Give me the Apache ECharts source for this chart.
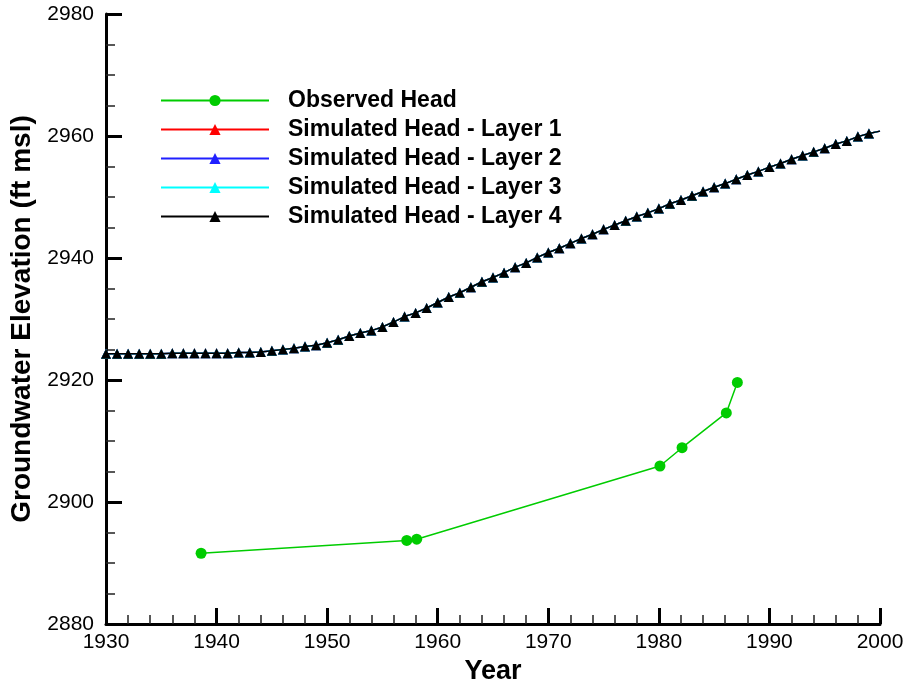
<!DOCTYPE html>
<html>
<head>
<meta charset="utf-8">
<script src="https://cdn.jsdelivr.net/npm/echarts@6/dist/echarts.min.js"></script>
<style>
html,body{margin:0;padding:0;background:#fff;}
#chart{width:909px;height:681px;}
</style>
</head>
<body>
<div id="chart"></div>
<script>
// Observed head (year, ft msl)
const observedYears = [1938.6, 1957.2, 1958.1, 1980.1, 1982.1, 1986.1, 1987.1];
const observedHead  = [2891.6, 2893.7, 2893.9, 2905.9, 2908.9, 2914.6, 2919.6];

// Simulated head, yearly 1930-2000 (all four layers plot on top of each other)
const simYears = [
  1930,1931,1932,1933,1934,1935,1936,1937,1938,1939,
  1940,1941,1942,1943,1944,1945,1946,1947,1948,1949,
  1950,1951,1952,1953,1954,1955,1956,1957,1958,1959,
  1960,1961,1962,1963,1964,1965,1966,1967,1968,1969,
  1970,1971,1972,1973,1974,1975,1976,1977,1978,1979,
  1980,1981,1982,1983,1984,1985,1986,1987,1988,1989,
  1990,1991,1992,1993,1994,1995,1996,1997,1998,1999,
  2000
];
const simLayer1 = [
  2924.3,2924.3,2924.3,2924.3,2924.3,2924.3,2924.4,2924.4,2924.4,2924.4,
  2924.4,2924.4,2924.5,2924.5,2924.6,2924.8,2925.0,2925.2,2925.5,2925.7,
  2926.1,2926.6,2927.2,2927.7,2928.1,2928.7,2929.5,2930.4,2931.0,2931.8,
  2932.7,2933.6,2934.3,2935.2,2936.1,2936.8,2937.6,2938.5,2939.2,2940.1,
  2940.9,2941.6,2942.4,2943.2,2943.9,2944.7,2945.4,2946.1,2946.8,2947.4,
  2948.1,2948.9,2949.5,2950.2,2950.9,2951.6,2952.2,2952.9,2953.6,2954.2,
  2954.9,2955.5,2956.2,2956.8,2957.4,2958.0,2958.7,2959.2,2959.9,2960.4,
  2960.8
];
const simLayer2 = simLayer1.slice();
const simLayer3 = simLayer1.slice();
const simLayer4 = simLayer1.slice();

const seriesNames = [
  'Observed Head',
  'Simulated Head - Layer 1',
  'Simulated Head - Layer 2',
  'Simulated Head - Layer 3',
  'Simulated Head - Layer 4'
];
const simColors = ['#ff0000', '#2020ff', '#00ffff', '#000000'];

function pairs(xs, ys, lastNoSymbol) {
  return xs.map((x, i) => {
    if (lastNoSymbol && i === xs.length - 1) return { value: [x, ys[i]], symbol: 'none' };
    return [x, ys[i]];
  });
}

const FONT = 'Liberation Sans, Arial, sans-serif';
const chart = echarts.init(document.getElementById('chart'), null, { renderer: 'canvas' });

const simSeries = [simLayer1, simLayer2, simLayer3, simLayer4].map((arr, k) => ({
  name: seriesNames[k + 1],
  type: 'line',
  data: pairs(simYears, arr, true),
  symbol: 'triangle',
  symbolSize: 10,
  showAllSymbol: true,
  lineStyle: { color: simColors[k], width: 1.5 },
  itemStyle: { color: simColors[k] },
  emphasis: { disabled: true },
  z: 3 + k
}));

chart.setOption({
  animation: false,
  backgroundColor: '#ffffff',
  textStyle: { fontFamily: FONT },
  grid: { left: 106, right: 29, top: 14, bottom: 57, containLabel: false, outerBoundsMode: 'none' },
  legend: {
    left: 160,
    top: 89,
    padding: 0,
    orient: 'vertical',
    itemWidth: 108,
    itemHeight: 14,
    itemGap: 6,
    data: seriesNames,
    textStyle: {
      fontFamily: FONT,
      fontSize: 23,
      fontWeight: 'bold',
      color: '#000',
      lineHeight: 23,
      padding: [0, 0, 0, 14]
    },
    selectedMode: false
  },
  xAxis: {
    type: 'value',
    min: 1930,
    max: 2000,
    interval: 10,
    name: 'Year',
    nameLocation: 'middle',
    nameGap: 27,
    nameTextStyle: { fontFamily: FONT, fontSize: 27, fontWeight: 'bold', color: '#000' },
    axisLine: { show: true, onZero: false, lineStyle: { color: '#000', width: 3 } },
    axisTick: { show: true, inside: true, length: 16, lineStyle: { color: '#000', width: 3 } },
    minorTick: { show: true, splitNumber: 5, length: 9, lineStyle: { color: '#222', width: 1.5 } },
    axisLabel: { fontFamily: FONT, fontSize: 21, color: '#000', margin: 8, formatter: v => String(v) },
    splitLine: { show: false }
  },
  yAxis: {
    type: 'value',
    min: 2880,
    max: 2980,
    interval: 20,
    name: 'Groundwater Elevation (ft msl)',
    nameLocation: 'middle',
    nameGap: 69,
    nameTextStyle: { fontFamily: FONT, fontSize: 28, fontWeight: 'bold', color: '#000' },
    axisLine: { show: true, onZero: false, lineStyle: { color: '#000', width: 3 } },
    axisTick: { show: true, inside: true, length: 16, lineStyle: { color: '#000', width: 3 } },
    minorTick: { show: true, splitNumber: 4, length: 9, lineStyle: { color: '#222', width: 1.5 } },
    axisLabel: { fontFamily: FONT, fontSize: 21, color: '#000', margin: 12, formatter: v => String(v) },
    splitLine: { show: false }
  },
  series: [
    {
      name: seriesNames[0],
      type: 'line',
      data: pairs(observedYears, observedHead, false),
      symbol: 'circle',
      symbolSize: 11,
      lineStyle: { color: '#00cc00', width: 1.5 },
      itemStyle: { color: '#00cc00' },
      emphasis: { disabled: true },
      z: 8
    }
  ].concat(simSeries)
});
</script>
</body>
</html>
